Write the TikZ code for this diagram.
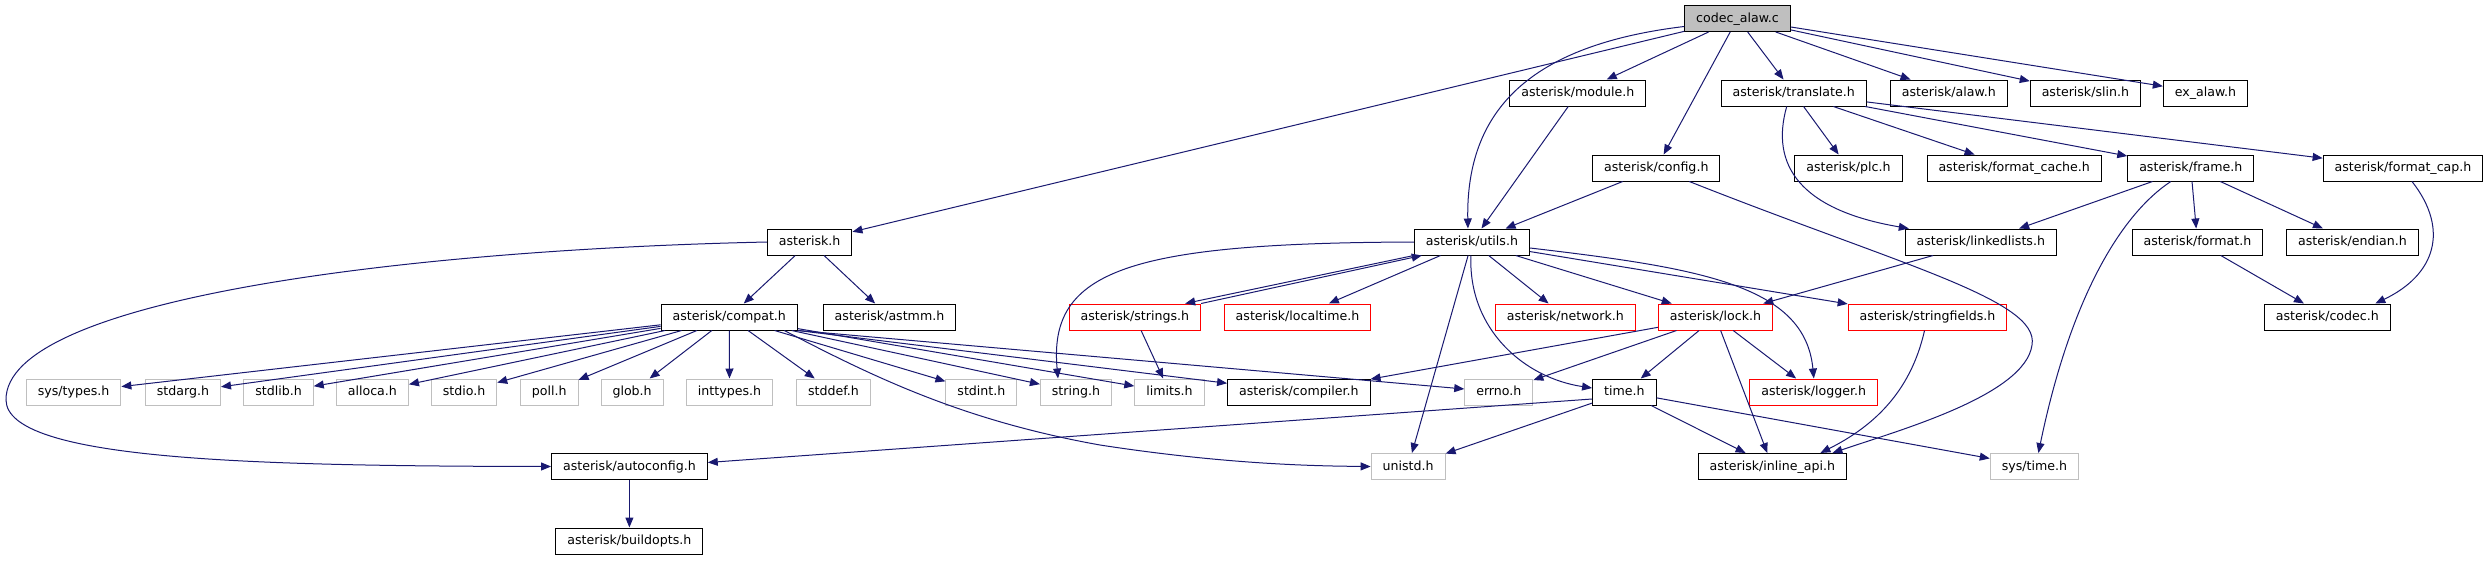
\documentclass[tikz,border=0pt]{standalone}
\usepackage{fontspec}
\setmainfont{DejaVu Sans}
\usepackage{xcolor}
\usepackage{tikz}
\usetikzlibrary{arrows.meta}
\definecolor{incedge}{HTML}{191970}
\definecolor{incgrey}{HTML}{BFBFBF}
\tikzset{
incbox/.style={rectangle,draw=black,line width=1pt,fill=white,inner xsep=11.5pt,inner ysep=0pt,minimum height=26pt,text height=9.5pt,text depth=2.5pt},
incroot/.style={incbox,fill=incgrey},
incred/.style={incbox,draw=red},
incsys/.style={incbox,draw=incgrey},
incarr/.style={-{Triangle[length=10pt,width=8pt]},draw=incedge,line width=1pt}
}
\begin{document}
\begin{tikzpicture}[
x=1pt,
y=-1pt,
every node/.style={font=\fontsize{12.6}{15}\selectfont}
]
\useasboundingbox (0,0) rectangle (2488,560);
\node[incroot] (codec) at (1737.5,18.5) {codec\_alaw.c};
\node[incbox] (module) at (1577.8,93) {asterisk/module.h};
\node[incbox] (translate) at (1793.7,93) {asterisk/translate.h};
\node[incbox] (alaw) at (1948.8,93) {asterisk/alaw.h};
\node[incbox] (slin) at (2085.4,93) {asterisk/slin.h};
\node[incbox] (exalaw) at (2205.5,93) {ex\_alaw.h};
\node[incbox] (config) at (1656.3,168) {asterisk/config.h};
\node[incbox] (plc) at (1848.5,168) {asterisk/plc.h};
\node[incbox] (fcache) at (2014.2,168) {asterisk/format\_cache.h};
\node[incbox] (frame) at (2190.8,168) {asterisk/frame.h};
\node[incbox] (fcap) at (2403,168) {asterisk/format\_cap.h};
\node[incbox] (asterisk) at (809.7,242) {asterisk.h};
\node[incbox] (utils) at (1471.9,242) {asterisk/utils.h};
\node[incbox] (linked) at (1980.8,242) {asterisk/linkedlists.h};
\node[incbox] (format) at (2197.4,242) {asterisk/format.h};
\node[incbox] (endian) at (2352.4,242) {asterisk/endian.h};
\node[incbox] (compat) at (729.3,317) {asterisk/compat.h};
\node[incbox] (astmm) at (889.5,317) {asterisk/astmm.h};
\node[incred] (strings) at (1134.9,317) {asterisk/strings.h};
\node[incred] (localtime) at (1297.5,317) {asterisk/localtime.h};
\node[incred] (network) at (1565.4,317) {asterisk/network.h};
\node[incred] (lock) at (1715.5,317) {asterisk/lock.h};
\node[incred] (sfields) at (1927.5,317) {asterisk/stringfields.h};
\node[incbox] (codech) at (2327.3,317) {asterisk/codec.h};
\node[incsys] (systypes) at (73.6,392) {sys/types.h};
\node[incsys] (stdarg) at (182.9,392) {stdarg.h};
\node[incsys] (stdlib) at (278.5,392) {stdlib.h};
\node[incsys] (alloca) at (372.4,392) {alloca.h};
\node[incsys] (stdio) at (464,392) {stdio.h};
\node[incsys] (poll) at (549.2,392) {poll.h};
\node[incsys] (glob) at (632.1,392) {glob.h};
\node[incsys] (inttypes) at (729.5,392) {inttypes.h};
\node[incsys] (stddef) at (833.5,392) {stddef.h};
\node[incsys] (stdint) at (981.4,392) {stdint.h};
\node[incsys] (string) at (1076,392) {string.h};
\node[incsys] (limits) at (1169.4,392) {limits.h};
\node[incbox] (compiler) at (1298.8,392) {asterisk/compiler.h};
\node[incsys] (errno) at (1498.8,392) {errno.h};
\node[incbox] (timeh) at (1624.3,392) {time.h};
\node[incred] (logger) at (1813.8,392) {asterisk/logger.h};
\node[incbox] (autoconf) at (629.4,466.5) {asterisk/autoconfig.h};
\node[incsys] (unistd) at (1408.1,466.5) {unistd.h};
\node[incbox] (inlineapi) at (1772.4,466.5) {asterisk/inline\_api.h};
\node[incsys] (systime) at (2034.4,466.5) {sys/time.h};
\node[incbox] (buildopts) at (629.4,541) {asterisk/buildopts.h};
% codec_alaw.c
\draw[incarr] (codec)--(asterisk);
\draw[incarr] ([yshift=-8pt]codec.west) .. controls (1530,45) and (1466,110) .. ([xshift=-4pt]utils.north);
\draw[incarr] (codec)--(module);
\draw[incarr] (codec)--(config);
\draw[incarr] (codec)--(translate);
\draw[incarr] (codec)--(alaw);
\draw[incarr] (codec)--(slin);
\draw[incarr] (codec)--(exalaw);
\draw[incarr] (module)--(utils);
\draw[incarr] (config)--(utils);
\draw[incarr] ([xshift=33pt]config.south) .. controls (1900,265) and (2040,300) .. (2032,345) .. controls (2025,395) and (1900,430) .. ([xshift=60pt]inlineapi.north);
% translate.h and frame.h
\draw[incarr] ([xshift=-7pt]translate.south) .. controls (1770,165) and (1800,210) .. ([xshift=-72pt]linked.north);
\draw[incarr] (translate)--(plc);
\draw[incarr] (translate)--(fcache);
\draw[incarr] (translate)--(frame);
\draw[incarr] (translate)--(fcap);
\draw[incarr] (frame)--(linked);
\draw[incarr] ([xshift=-20pt]frame.south) .. controls (2120,215) and (2070,300) .. ([xshift=4pt]systime.north);
\draw[incarr] (frame)--(format);
\draw[incarr] (frame)--(endian);
\draw[incarr] ([xshift=9pt]fcap.south) .. controls (2450,230) and (2435,275) .. ([xshift=48pt]codech.north);
\draw[incarr] (format)--(codech);
\draw[incarr] (linked)--(lock);
% asterisk.h and compat.h
\draw[incarr] (asterisk)--(compat);
\draw[incarr] (asterisk)--(astmm);
\draw[incarr] (asterisk.west) .. controls (400,250) and (5,300) .. (6,400) .. controls (7,460) and (250,466) .. (autoconf.west);
\draw[incarr] (compat)--(systypes);
\draw[incarr] (compat)--(stdarg);
\draw[incarr] (compat)--(stdlib);
\draw[incarr] (compat)--(alloca);
\draw[incarr] (compat)--(stdio);
\draw[incarr] (compat)--(poll);
\draw[incarr] (compat)--(glob);
\draw[incarr] (compat)--(inttypes);
\draw[incarr] (compat)--(stddef);
\draw[incarr] (compat)--(stdint);
\draw[incarr] (compat)--(string);
\draw[incarr] (compat)--(limits);
\draw[incarr] (compat.south east)--(compiler);
\draw[incarr] (compat.south east)--(errno);
\draw[incarr] ([xshift=55pt]compat.south) .. controls (870,375) and (960,420) .. (1100,445) .. controls (1230,465) and (1320,466) .. (unistd.west);
% utils.h
\draw[incarr] (utils.west) .. controls (1130,243) and (1048,270) .. ([xshift=-18pt]string.north);
\draw[incarr] (utils.south west)--([xshift=-16pt]strings.north east);
\draw[incarr] (strings.north east)--([xshift=8pt]utils.south west);
\draw[incarr] (utils)--(localtime);
\draw[incarr] (utils)--(unistd);
\draw[incarr] ([xshift=-1pt]utils.south) .. controls (1468,330) and (1525,378) .. ([yshift=4pt]timeh.west);
\draw[incarr] (utils)--(network);
\draw[incarr] (utils)--(lock);
\draw[incarr] ([yshift=-6pt]utils.east) .. controls (1700,268) and (1805,285) .. (logger.north);
\draw[incarr] (utils)--(sfields);
\draw[incarr] (strings)--(limits);
% lock.h, stringfields.h, time.h
\draw[incarr] (lock)--(compiler);
\draw[incarr] (lock)--(errno);
\draw[incarr] (lock)--(timeh);
\draw[incarr] (lock)--(logger);
\draw[incarr] (lock)--(inlineapi);
\draw[incarr] ([xshift=-3pt]sfields.south) .. controls (1910,395) and (1870,428) .. ([xshift=48pt]inlineapi.north);
\draw[incarr] ([yshift=-7pt]timeh.west)--([yshift=4pt]autoconf.east);
\draw[incarr] (timeh)--(unistd);
\draw[incarr] (timeh)--(inlineapi);
\draw[incarr] (timeh)--(systime);
\draw[incarr] (autoconf)--(buildopts);
\end{tikzpicture}
\end{document}
